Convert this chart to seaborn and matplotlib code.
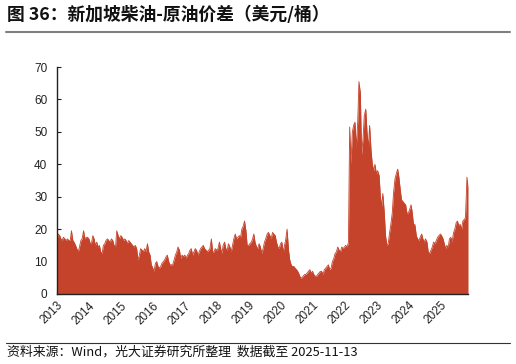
"""新加坡柴油-原油价差 area chart (semi-monthly readings, 2013 – 2025-11-13)."""

import matplotlib
matplotlib.use("Agg")

import matplotlib.pyplot as plt
import matplotlib.dates as mdates
from matplotlib.lines import Line2D
import pandas as pd
import seaborn as sns

# ---------------------------------------------------------------------------
# Data: one list per year, 24 semi-monthly readings (USD/bbl)
# ---------------------------------------------------------------------------
v2013 = [16.5, 18.5, 18, 17, 16.5, 17.5, 17, 16.5, 17, 16.5, 16.5, 19.5,
         16.5, 16, 15, 14, 13, 14.5, 16.5, 17, 19.5, 17, 17.5, 17.5]
v2014 = [17, 15.5, 16, 18, 17, 15, 16, 14.5, 15, 13, 12.5, 15,
         15.5, 16.5, 17, 16.5, 16, 17, 16.5, 15, 14.5, 19.5, 18, 17]
v2015 = [18, 17.5, 16.5, 17, 16.5, 15.5, 16.5, 16, 15.5, 15, 14.5, 15,
         14, 10.5, 12, 14, 13.5, 13, 14, 13, 15.5, 13, 12, 9]
v2016 = [8, 7, 9.5, 10, 8.5, 8, 8.5, 9.5, 10, 10.5, 11.5, 12,
         10, 9, 9, 9, 10.5, 12, 13, 14.5, 13.5, 11, 12, 11.5]
v2017 = [12, 11, 12, 12.5, 13.5, 14, 12, 13, 14, 13.5, 12, 13,
         14, 14.5, 15, 14, 13.5, 13, 13.5, 14, 17, 13, 13, 14]
v2018 = [13.5, 14, 16, 14, 12.5, 15, 16, 14, 13.5, 15.5, 14.5, 13,
         15, 17, 18.5, 17, 17.5, 18, 17.5, 20, 21, 22.5, 19.5, 15]
v2019 = [15, 15.5, 16, 17, 18.5, 16, 14.5, 14, 15.5, 14.5, 12.5, 14,
         16, 17, 18.5, 19, 18, 17, 19, 18.5, 18, 16, 14.5, 14]
v2020 = [15.5, 16, 13, 15, 17, 20, 13.5, 10.5, 9, 8.5, 8.5, 8,
         7.5, 7, 6, 5, 5, 5.5, 6, 6, 6.5, 7, 7.5, 6.5]
v2021 = [7, 6, 5.5, 5.5, 6, 6.5, 7, 7, 6, 7.5, 8, 8.5,
         9, 7.5, 8, 10, 11, 12.5, 13, 14.5, 13.5, 13, 14.5, 14]
v2022 = [14.5, 15, 14.5, 16, 51.5, 40, 50, 52, 53, 45, 53, 65.5,
         62, 43, 48, 55, 57, 50, 45, 52, 44, 40, 38, 40]
v2023 = [37, 38, 36.5, 30, 27, 31, 25, 18, 15, 15.5, 19, 21.5,
         25, 31, 35.5, 37, 38.5, 36, 32, 29, 28.5, 28, 27.5, 25]
v2024 = [25, 26, 27.5, 25, 21, 21.5, 18, 17, 16.5, 17.5, 18.5, 17,
         16, 17, 16, 13, 12.5, 13.5, 14.5, 16, 15.5, 16.5, 17.5, 18]
# Jan-01 ... Nov-01, then the last print on 2025-11-13
v2025 = [18.5, 18, 17, 15.5, 14, 15, 14.5, 17, 17.5, 16, 19, 20,
         22, 22.5, 21, 21.5, 20, 22.5, 23, 23.5, 36, 33]

END_DATE = "2025-11-13"
COLOR = "#C5432A"

TITLE = "图 36：新加坡柴油-原油价差（美元/桶）"
SOURCE = "资料来源：Wind，光大证券研究所整理  数据截至 2025-11-13"

W, H = 516, 364


def build_frame() -> pd.DataFrame:
    values = (v2013 + v2014 + v2015 + v2016 + v2017 + v2018 + v2019
              + v2020 + v2021 + v2022 + v2023 + v2024 + v2025)
    dates = pd.date_range("2013-01-01", "2025-11-01", freq="SMS")
    dates = dates.append(pd.DatetimeIndex([END_DATE]))
    return pd.DataFrame({"date": dates, "value": values})


def main() -> None:
    df = build_frame()

    sns.set_style("ticks")
    plt.rcParams["font.family"] = ["Noto Sans CJK SC", "DejaVu Sans"]

    fig = plt.figure(figsize=(W / 100, H / 100), dpi=100)
    ax = fig.add_axes([57 / W, 1 - 294 / H, (468 - 57) / W, (294 - 67) / H])

    ax.fill_between(df["date"], df["value"], 0, color=COLOR, linewidth=0)
    sns.lineplot(data=df, x="date", y="value", color=COLOR, linewidth=0.6, ax=ax)

    ax.set_xlim(pd.Timestamp("2013-01-01"), pd.Timestamp(END_DATE))
    ax.set_ylim(0, 70)
    ax.set_yticks(range(0, 71, 10))
    ax.xaxis.set_major_locator(mdates.YearLocator())
    ax.xaxis.set_major_formatter(mdates.DateFormatter("%Y"))
    ax.set_xlabel("")
    ax.set_ylabel("")

    ax.tick_params(axis="both", direction="in", length=3, width=0.8,
                   colors="#222222", labelsize=8.5)
    ax.tick_params(axis="x", pad=4)
    ax.tick_params(axis="y", pad=7)
    for lbl in ax.get_xticklabels():
        lbl.set_rotation(45)
        lbl.set_ha("right")
        lbl.set_rotation_mode("anchor")
        lbl.set_family(["Liberation Sans", "DejaVu Sans"])
    for lbl in ax.get_yticklabels():
        lbl.set_family(["Liberation Sans", "DejaVu Sans"])

    for side in ("top", "right"):
        ax.spines[side].set_visible(False)
    for side in ("left", "bottom"):
        ax.spines[side].set_linewidth(1.0)
        ax.spines[side].set_color("#222222")

    # title, rule lines and source note
    fig.text(7 / W, 1 - 15 / H, TITLE, fontsize=12.8, fontweight="bold",
             va="center", ha="left", color="#111111")
    fig.add_artist(Line2D([6 / W, 510 / W], [1 - 31.5 / H] * 2,
                          color="#7f7f7f", linewidth=1.5))
    fig.add_artist(Line2D([6 / W, 510 / W], [1 - 342.5 / H] * 2,
                          color="#333333", linewidth=0.8))
    fig.text(7 / W, 1 - 352 / H, SOURCE, fontsize=9.3,
             va="center", ha="left", color="#111111")

    fig.savefig("out.png", dpi=100)


if __name__ == "__main__":
    main()
